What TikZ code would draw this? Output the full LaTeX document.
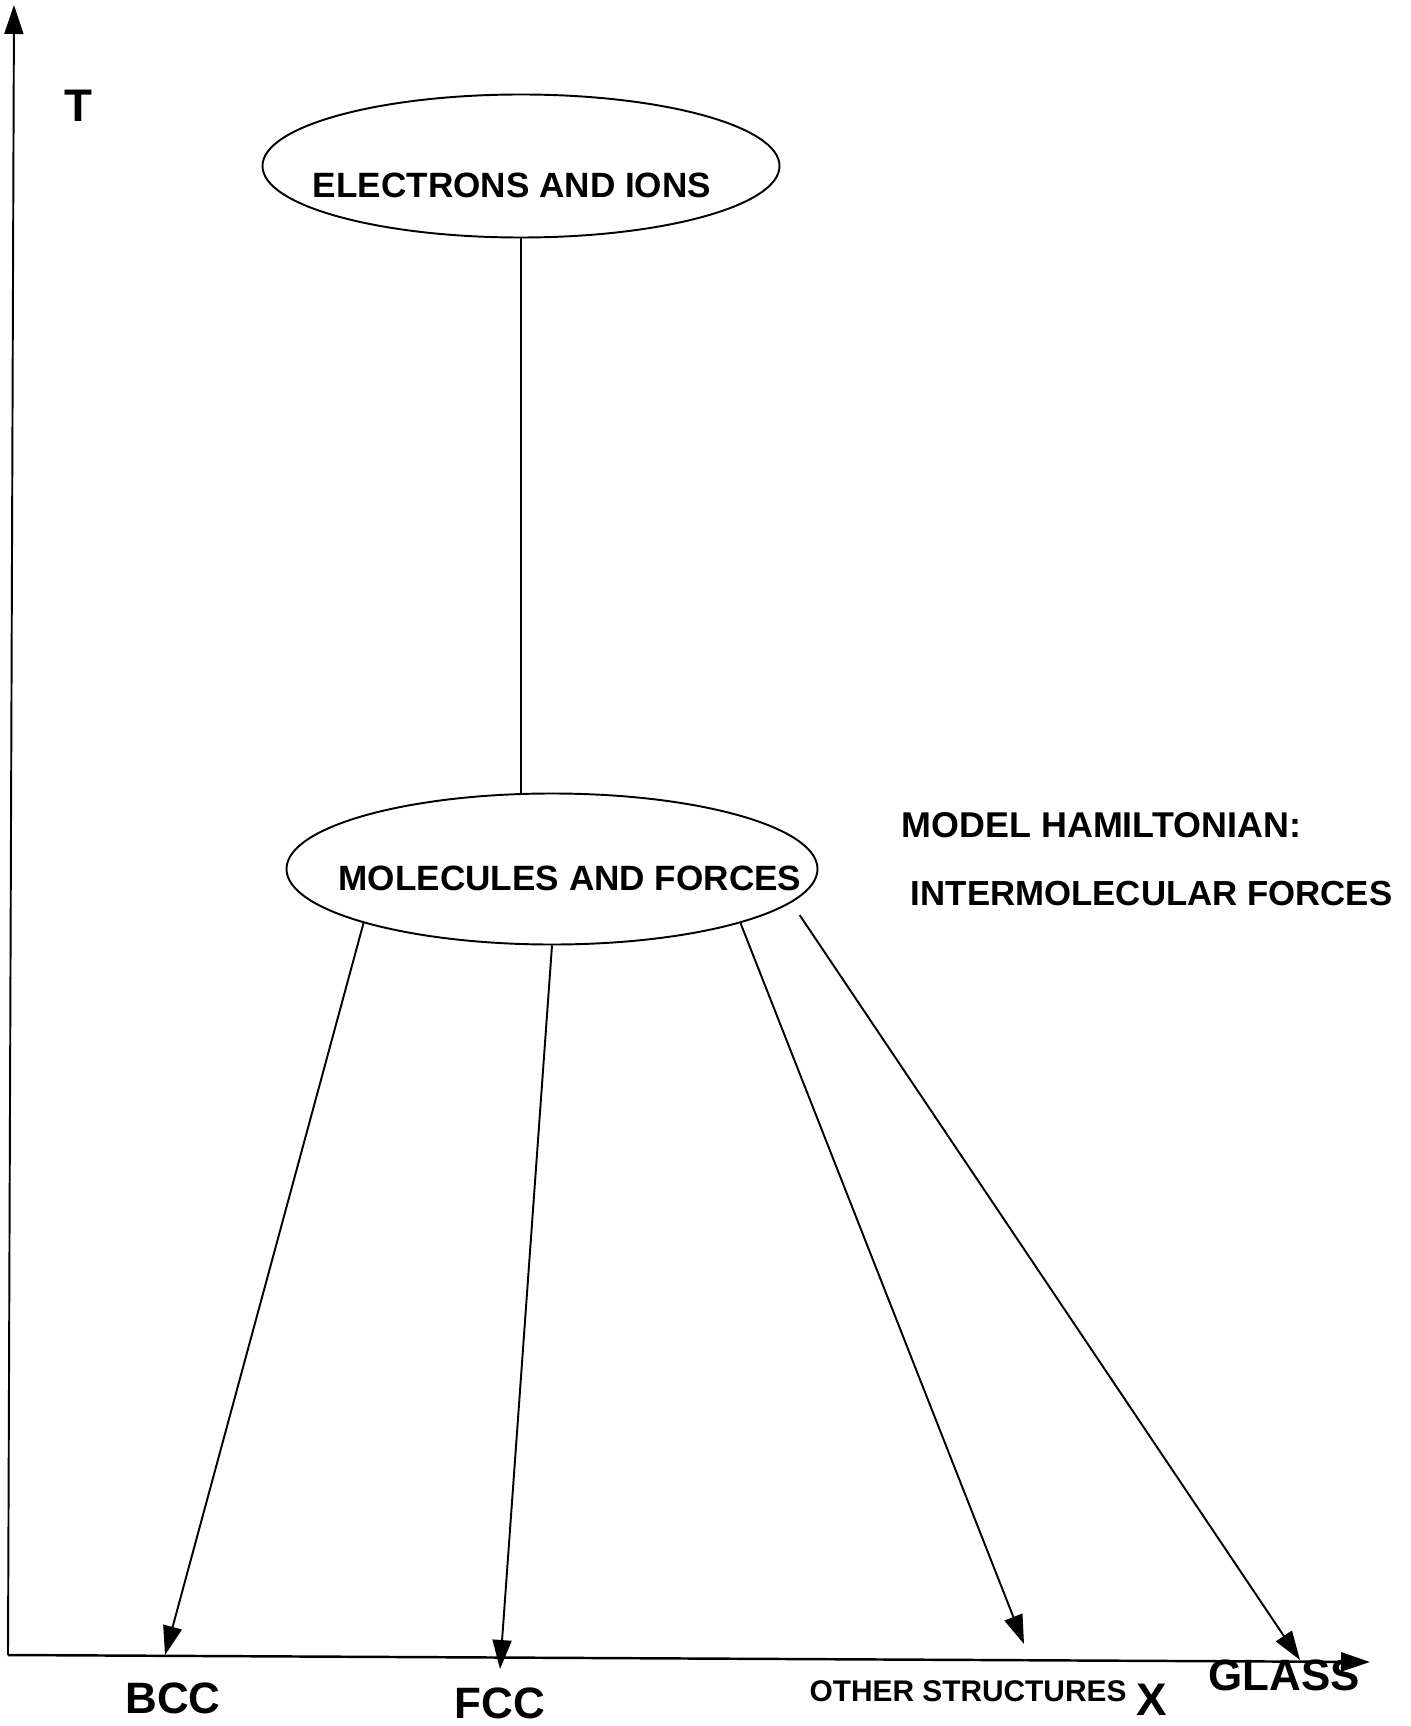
\documentclass[tikz,border=0pt]{standalone}
\usepackage{fontspec}
\setmainfont{Liberation Sans}
\usetikzlibrary{arrows.meta,shapes.geometric}

\begin{document}
\begin{tikzpicture}[x=0.2mm,y=-0.2mm,line width=1.1pt,
  every node/.style={inner sep=0pt,font=\bfseries},
  arr/.style={-{Triangle[length=5.8mm,width=3.8mm]}},
  blob/.style={draw,ellipse,line width=1.1pt}]
  \useasboundingbox (0,0) rectangle (1411,1726);
  % axes
  \coordinate (O) at (8,1655);
  \coordinate (Ttop) at (14,5);
  \coordinate (Xend) at (1370,1662);
  \draw [arr] (O)--(Ttop);
  \draw [arr,line width=1.4pt] (O)--(Xend);
  \node (T) at (78,106) {\fontsize{26}{30}\selectfont T};
  \node (X) at (1152,1700) {\fontsize{26}{30}\selectfont X};
  % the two levels
  \node [blob,minimum width=10.34cm,minimum height=2.86cm] (ei) at (521,166) {};
  \node (eitext) at (512,185) {\fontsize{20}{24}\selectfont ELECTRONS AND IONS};
  \node [blob,minimum width=10.62cm,minimum height=3.02cm] (mf) at (552,869) {};
  \node (mftext) at (570,878) {\fontsize{20}{24}\selectfont MOLECULES AND FORCES};
  \draw (ei.south)--(ei.south |- mf.north);
  \node [anchor=west] (model) at (901,825) {\fontsize{20.4}{24}\selectfont MODEL HAMILTONIAN:};
  \node [anchor=west] (inter) at (910,894) {\fontsize{19.8}{24}\selectfont INTERMOLECULAR FORCES};
  % structures
  \coordinate (bcctip) at (165,1655);
  \coordinate (fcctip) at (500,1669);
  \coordinate (othtip) at (1024,1644);
  \coordinate (glasstip) at (1300,1660);
  \draw [arr] (mf.196)--(bcctip);
  \draw [arr] (mf.270)--(fcctip);
  \draw [arr] (mf.344)--(othtip);
  \draw [arr,shorten <=3mm] (mf.352)--(glasstip);
  \node (bcc) at (173,1698) {\fontsize{25}{30}\selectfont BCC};
  \node (fcc) at (500,1703) {\fontsize{25}{30}\selectfont FCC};
  \node (oth) at (968,1691) {\fontsize{17}{20}\selectfont OTHER STRUCTURES};
  \node (glass) at (1284,1675) {\fontsize{25}{30}\selectfont GLASS};
\end{tikzpicture}
\end{document}
